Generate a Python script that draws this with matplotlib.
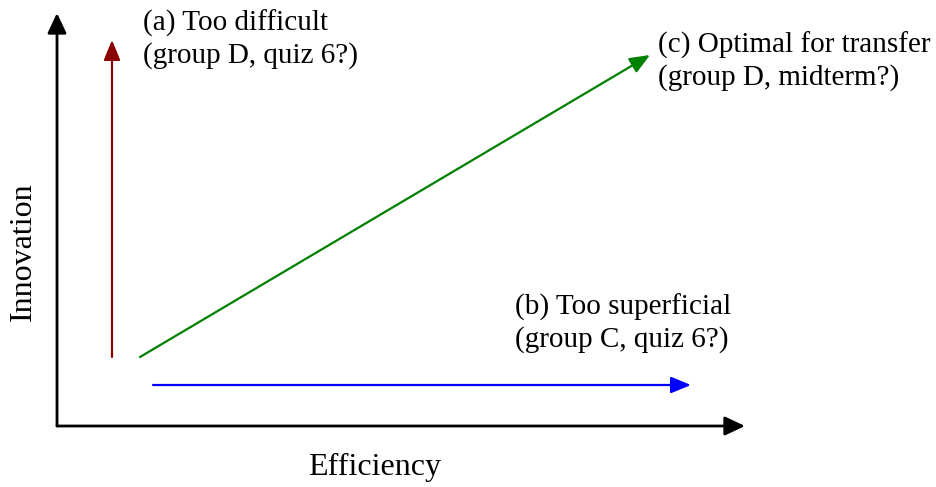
import matplotlib.pyplot as plt

plt.rcParams['font.family'] = ['Liberation Serif', 'DejaVu Serif']

# diagram in pixel units of the original picture (y grows downward)
axis_origin = (57, 426)
axis_x_end = 745
axis_y_end = 13

arrow_names = ['a', 'c', 'b']
arrow_starts = [(112, 357), (140, 357), (153, 385)]
arrow_ends = [(112, 40), (650, 55), (691, 385)]
arrow_colors = ['#8b0000', 'green', 'blue']

labels = ['(a) Too difficult\n(group D, quiz 6?)',
          '(c) Optimal for transfer\n(group D, midterm?)',
          '(b) Too superficial\n(group C, quiz 6?)']
label_pos = [(143, 39), (658, 61), (515, 323)]

fig = plt.figure(figsize=(9.37, 4.87), dpi=100)
ax = fig.add_axes([0, 0, 1, 1])
ax.set_xlim(0, 937)
ax.set_ylim(487, 0)
ax.axis('off')

def arrow(p0, p1, color, lw=1.6, w=14, l=17):
    # head width / length given in pixels, converted to points
    ms = 10
    hw = w / 2 * 0.72 / ms
    hl = l * 0.72 / ms
    ax.annotate('', xy=p1, xytext=p0,
                arrowprops=dict(arrowstyle='-|>,head_width=%.3f,head_length=%.3f' % (hw, hl),
                                color=color, lw=lw, shrinkA=0, shrinkB=0,
                                mutation_scale=ms))

# axes
arrow(axis_origin, (axis_x_end, axis_origin[1]), 'black', lw=2.0, w=16, l=17)
arrow(axis_origin, (axis_origin[0], axis_y_end), 'black', lw=2.0, w=16, l=17)

for p0, p1, c in zip(arrow_starts, arrow_ends, arrow_colors):
    arrow(p0, p1, c)

for t, (x, y) in zip(labels, label_pos):
    ax.text(x, y, t, fontsize=21, ha='left', va='center', linespacing=1.25)

ax.text(23, 252, 'Innovation', fontsize=23, rotation=90, ha='center', va='center')
ax.text(375, 467, 'Efficiency', fontsize=23, ha='center', va='center')

fig.savefig('out.png', dpi=100)
